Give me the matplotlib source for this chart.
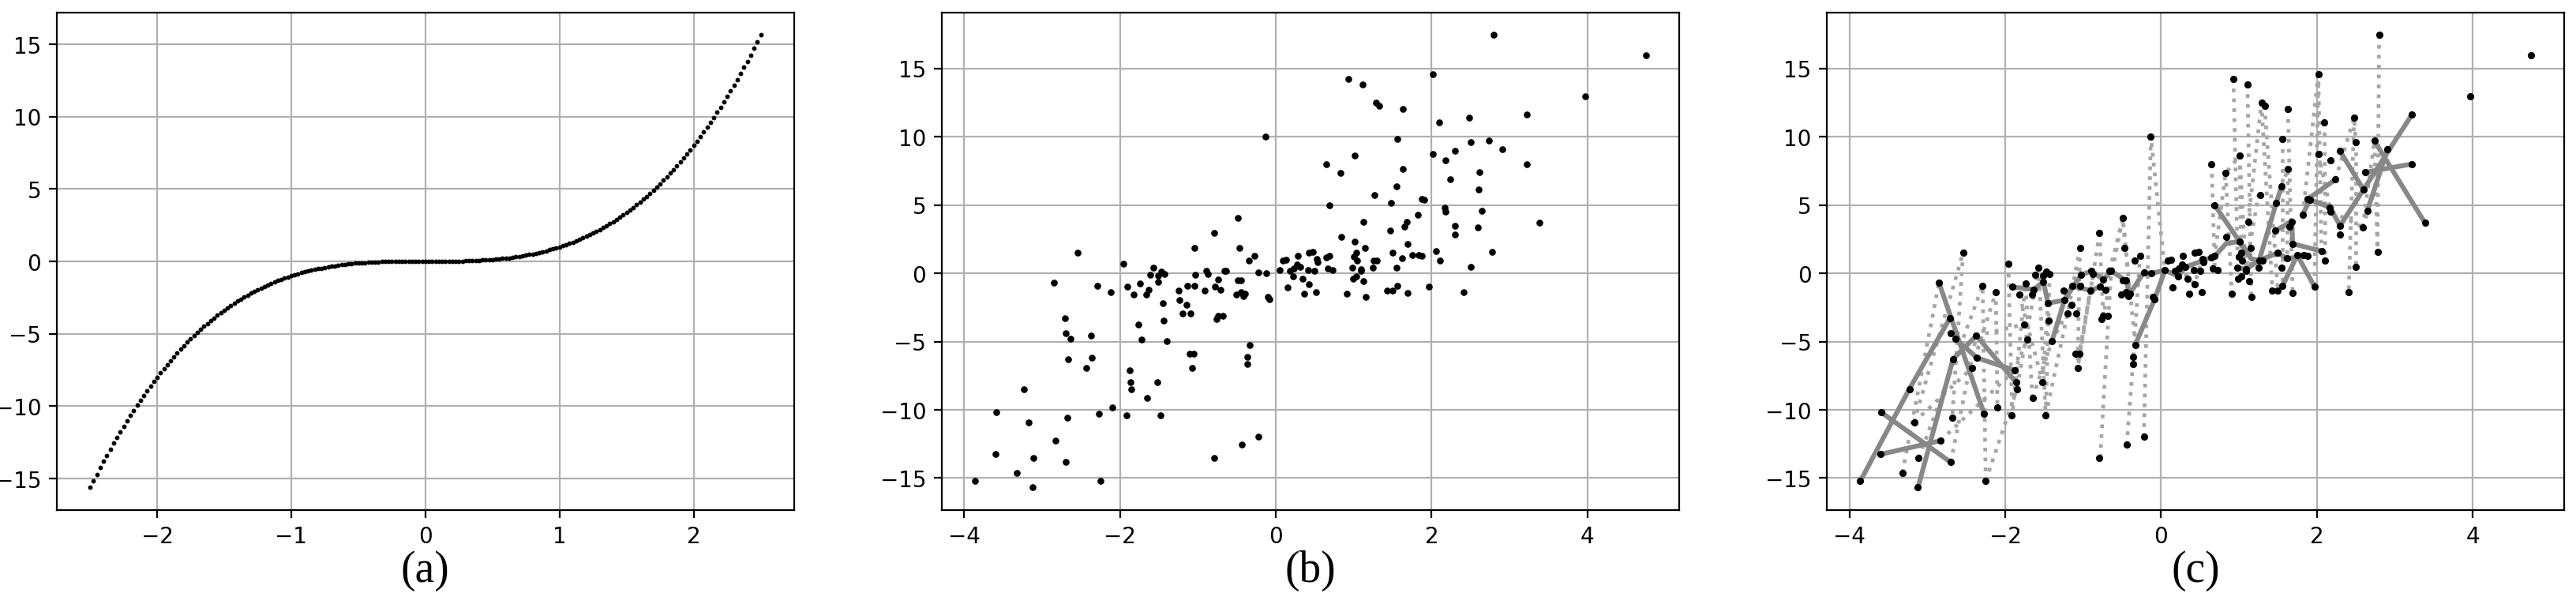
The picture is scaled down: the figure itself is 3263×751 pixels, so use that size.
import matplotlib
matplotlib.use("Agg")
import matplotlib.pyplot as plt

# ---- data ----
# (a) dense curve
x_a = [-2.500, -2.475, -2.450, -2.425, -2.400, -2.375, -2.350, -2.325, -2.300, -2.275,
       -2.250, -2.225, -2.200, -2.175, -2.150, -2.125, -2.100, -2.075, -2.050, -2.025,
       -2.000, -1.975, -1.950, -1.925, -1.900, -1.875, -1.850, -1.825, -1.800, -1.775,
       -1.750, -1.725, -1.700, -1.675, -1.650, -1.625, -1.600, -1.575, -1.550, -1.525,
       -1.500, -1.475, -1.450, -1.425, -1.400, -1.375, -1.350, -1.325, -1.300, -1.275,
       -1.250, -1.225, -1.200, -1.175, -1.150, -1.125, -1.100, -1.075, -1.050, -1.025,
       -1.000, -0.975, -0.950, -0.925, -0.900, -0.875, -0.850, -0.825, -0.800, -0.775,
       -0.750, -0.725, -0.700, -0.675, -0.650, -0.625, -0.600, -0.575, -0.550, -0.525,
       -0.500, -0.475, -0.450, -0.425, -0.400, -0.375, -0.350, -0.325, -0.300, -0.275,
       -0.250, -0.225, -0.200, -0.175, -0.150, -0.125, -0.100, -0.075, -0.050, -0.025,
       0.000,
       0.025, 0.050, 0.075, 0.100, 0.125, 0.150, 0.175, 0.200, 0.225, 0.250,
       0.275, 0.300, 0.325, 0.350, 0.375, 0.400, 0.425, 0.450, 0.475, 0.500,
       0.525, 0.550, 0.575, 0.600, 0.625, 0.650, 0.675, 0.700, 0.725, 0.750,
       0.775, 0.800, 0.825, 0.850, 0.875, 0.900, 0.925, 0.950, 0.975, 1.000,
       1.025, 1.050, 1.075, 1.100, 1.125, 1.150, 1.175, 1.200, 1.225, 1.250,
       1.275, 1.300, 1.325, 1.350, 1.375, 1.400, 1.425, 1.450, 1.475, 1.500,
       1.525, 1.550, 1.575, 1.600, 1.625, 1.650, 1.675, 1.700, 1.725, 1.750,
       1.775, 1.800, 1.825, 1.850, 1.875, 1.900, 1.925, 1.950, 1.975, 2.000,
       2.025, 2.050, 2.075, 2.100, 2.125, 2.150, 2.175, 2.200, 2.225, 2.250,
       2.275, 2.300, 2.325, 2.350, 2.375, 2.400, 2.425, 2.450, 2.475, 2.500]
y_a = [-15.63, -15.16, -14.71, -14.26, -13.82, -13.40, -12.98, -12.57, -12.17, -11.77,
       -11.39, -11.02, -10.65, -10.29, -9.94, -9.60, -9.26, -8.93, -8.62, -8.30,
       -8.00, -7.70, -7.41, -7.13, -6.86, -6.59, -6.33, -6.08, -5.83, -5.59,
       -5.36, -5.13, -4.91, -4.70, -4.49, -4.29, -4.10, -3.91, -3.72, -3.55,
       -3.38, -3.21, -3.05, -2.89, -2.74, -2.60, -2.46, -2.33, -2.20, -2.07,
       -1.95, -1.84, -1.73, -1.62, -1.52, -1.42, -1.33, -1.24, -1.16, -1.08,
       -1.00, -0.93, -0.86, -0.79, -0.73, -0.67, -0.61, -0.56, -0.51, -0.47,
       -0.42, -0.38, -0.34, -0.31, -0.27, -0.24, -0.22, -0.19, -0.17, -0.14,
       -0.13, -0.11, -0.09, -0.08, -0.06, -0.05, -0.04, -0.03, -0.03, -0.02,
       -0.02, -0.01, -0.01, -0.01, 0.00, 0.00, 0.00, 0.00, 0.00, 0.00,
       0.00,
       0.00, 0.00, 0.00, 0.00, 0.00, 0.00, 0.01, 0.01, 0.01, 0.02,
       0.02, 0.03, 0.03, 0.04, 0.05, 0.06, 0.08, 0.09, 0.11, 0.13,
       0.14, 0.17, 0.19, 0.22, 0.24, 0.27, 0.31, 0.34, 0.38, 0.42,
       0.47, 0.51, 0.56, 0.61, 0.67, 0.73, 0.79, 0.86, 0.93, 1.00,
       1.08, 1.16, 1.24, 1.33, 1.42, 1.52, 1.62, 1.73, 1.84, 1.95,
       2.07, 2.20, 2.33, 2.46, 2.60, 2.74, 2.89, 3.05, 3.21, 3.38,
       3.55, 3.72, 3.91, 4.10, 4.29, 4.49, 4.70, 4.91, 5.13, 5.36,
       5.59, 5.83, 6.08, 6.33, 6.59, 6.86, 7.13, 7.41, 7.70, 8.00,
       8.30, 8.62, 8.93, 9.26, 9.60, 9.94, 10.29, 10.65, 11.02, 11.39,
       11.77, 12.17, 12.57, 12.98, 13.40, 13.82, 14.26, 14.71, 15.16, 15.63]

# (b) / (c) noisy samples
x_b = [2.80, 4.75, 2.02, 0.93, 1.11, 3.97, 1.29, 1.33, 1.63, 3.22,
       2.48, 2.10, -0.13, 1.56, 2.50, 2.74, 2.91, 2.30, 2.02, 1.01,
       2.18, 0.65, 3.22, 0.83, 2.62, 1.63, 2.24, 1.55, 2.60, 1.27,
       1.88, 1.91, 1.48, 0.69, 2.17, 2.18, 2.65, 1.82, -0.49, 1.68,
       1.12, 3.39, 1.65, 2.30, 2.59, 1.47, -0.79, 2.30, 0.84, 1.01,
       1.69, 1.15, -1.04, -0.47, 2.06, -2.54, 2.78, 0.48, 0.43, 1.50,
       1.03, 1.75, 1.83, 1.88, 0.28, -0.27, 0.69, 0.65, 1.00, 1.62,
       0.53, 0.13, 0.09, -0.34, 0.54, 1.04, 1.26, 1.30, 2.11, -1.96,
       0.27, 0.31, 2.50, -1.57, 1.55, 0.98, 1.25, 0.67, 0.23, 0.73,
       0.05, 0.42, 0.50, 1.09, 1.09, -0.89, -1.47, -0.66, -0.64, 0.18,
       -0.22, -0.12, -0.87, -1.43, -1.61, -1.51, -1.03, 0.22, 1.03, 0.99,
       0.34, -0.74, -0.49, -0.45, 1.13, -1.51, 0.43, -1.74, -2.85, -2.29,
       -1.04, -1.14, -1.91, -0.78, 1.97, 1.56, -1.63, -0.71, -0.91, 0.15,
       -1.25, 1.43, 1.50, -2.12, -0.45, 0.52, 2.41, 1.69, -0.40, -0.51,
       -1.82, -1.66, 0.91, 0.36, -0.42, 1.16, -0.10, -0.08, -1.24, -1.45,
       -1.15, -1.20, -1.09, -0.74, -0.68, -0.76, -2.71, -1.44, -1.76, -2.70,
       -2.37, -2.64, -1.72, -1.40, -0.33, -1.10, -1.05, -0.36, -2.36, -2.67,
       -0.36, -2.43, -1.07, -1.88, -1.86, -1.52, -3.23, -1.85, -1.65, -2.10,
       -3.59, -2.27, -1.92, -1.48, -2.68, -3.17, -0.22, -2.83, -0.44, -3.60,
       -3.11, -0.79, -2.70, -3.32, -3.86, -2.25, -3.12]
y_b = [17.44, 15.94, 14.56, 14.25, 13.84, 12.95, 12.48, 12.26, 12.01, 11.60,
       11.40, 11.04, 9.99, 9.83, 9.58, 9.69, 9.11, 8.94, 8.72, 8.61,
       8.30, 8.00, 8.00, 7.33, 7.39, 7.61, 6.86, 6.39, 6.12, 5.73,
       5.42, 5.40, 5.15, 4.98, 4.82, 4.54, 4.59, 4.29, 4.04, 3.79,
       3.79, 3.68, 3.43, 3.49, 3.38, 3.13, 2.96, 2.82, 2.66, 2.32,
       2.16, 1.88, 1.85, 1.83, 1.63, 1.52, 1.55, 1.55, 1.49, 1.49,
       1.49, 1.33, 1.36, 1.27, 1.30, 1.27, 1.25, 1.16, 1.22, 1.08,
       1.02, 1.00, 0.94, 0.91, 0.83, 0.91, 0.94, 0.94, 0.94, 0.69,
       0.66, 0.44, 0.44, 0.42, 0.39, 0.42, 0.39, 0.36, 0.36, 0.25,
       0.22, 0.22, 0.19, 0.28, 0.17, 0.17, 0.11, 0.17, 0.17, 0.17,
       0.06, 0.00, -0.06, -0.08, -0.14, -0.17, -0.14, -0.22, -0.25, -0.42,
       -0.39, -0.47, -0.53, -0.53, -0.55, -0.61, -0.80, -0.77, -0.69, -0.91,
       -0.91, -0.94, -1.00, -1.00, -0.97, -0.94, -1.19, -1.19, -1.25, -1.05,
       -1.27, -1.25, -1.25, -1.38, -1.38, -1.38, -1.38, -1.44, -1.49, -1.55,
       -1.55, -1.55, -1.52, -1.52, -1.66, -1.74, -1.74, -1.88, -1.97, -2.19,
       -2.30, -2.96, -2.96, -3.10, -3.10, -3.35, -3.29, -3.46, -3.74, -4.37,
       -4.57, -4.79, -4.87, -4.98, -5.23, -5.92, -5.92, -6.14, -6.20, -6.28,
       -6.64, -6.95, -6.95, -7.11, -8.00, -7.97, -8.47, -8.47, -9.13, -9.80,
       -10.19, -10.30, -10.43, -10.41, -10.60, -10.91, -11.98, -12.26, -12.57, -13.26,
       -13.53, -13.51, -13.84, -14.61, -15.22, -15.20, -15.69]

# (c) solid links between samples
solid_x = [[-3.86, -3.23, -2.71], [-3.59, -2.70], [-3.60, -2.83], [-2.85, -2.27],
           [-3.12, -2.67, -2.37, -1.86], [-2.64, -2.36, -1.88],
           [-1.40, -1.24, -1.03, -0.89, -0.74, -0.64, -0.45, -0.40, -0.22, -0.12, 0.05, 0.22, 0.31],
           [-1.45, -1.24, -1.14, -0.91, -0.78], [-0.33, -0.08, 0.05],
           [0.31, 0.69, 0.84, 1.01, 1.16, 1.30], [0.69, 1.01], [1.26, 1.48, 1.55],
           [1.47, 1.68, 1.69, 2.06], [2.30, 2.60, 3.22], [2.30, 2.60], [2.62, 3.22],
           [2.74, 3.39], [2.65, 2.91], [1.88, 2.24], [1.91, 2.17, 2.30], [1.82, 1.91],
           [-1.91, -1.63, -1.51, -1.45], [0.98, 1.09, 1.26, 1.50, 1.62, 1.88],
           [1.56, 1.75, 1.97]]
solid_y = [[-15.22, -8.47, -3.29], [-10.19, -13.84], [-13.26, -12.26], [-0.69, -10.30],
           [-15.69, -6.28, -4.57, -8.00], [-4.79, -6.20, -7.11],
           [-4.98, -1.97, -0.14, 0.17, -0.47, 0.17, -0.53, -1.49, 0.06, 0.00, 0.22, -0.22, 0.44],
           [-2.19, -1.97, -0.94, -1.25, -1.00], [-5.23, -1.88, 0.22],
           [0.44, 1.25, 2.20, 2.32, 1.05, 0.94], [4.98, 2.32], [0.94, 5.15, 6.39],
           [3.13, 3.79, 2.16, 1.63], [3.49, 6.12, 11.60], [8.94, 6.12], [7.39, 8.00],
           [9.69, 3.68], [4.59, 9.11], [5.42, 6.86], [5.40, 4.82, 3.49], [4.29, 5.40],
           [-1.00, -1.19, -0.61, -2.19], [0.42, 0.28, 0.94, 1.49, 1.08, 1.27],
           [-0.94, 1.33, -0.97]]

# (c) dotted links between samples
dot_x = [[-3.32, -2.85], [-3.11, -2.29, -2.25], [-2.54, -2.68], [-3.17, -2.43, -2.12, -2.10],
         [-1.96, -1.91, -1.74, -1.65], [-1.57, -1.48, -1.43], [-1.82, -1.52, -1.45],
         [-1.04, -1.07, -0.91], [-1.10, -1.05, -0.87], [-0.79, -0.74, -0.49, -0.40],
         [-0.78, -0.64], [-0.44, -0.36, -0.27], [-0.22, -0.13, 0.05], [0.65, 0.69],
         [0.83, 0.91], [0.93, 0.99], [1.11, 1.16], [1.29, 1.43], [1.33, 1.50], [1.63, 1.69],
         [1.56, 1.56], [2.02, 1.97], [2.10, 2.11], [2.80, 2.78], [2.48, 2.41], [2.50, 2.50],
         [2.02, 2.18, 2.59], [1.01, 1.09, 1.25], [2.91, 2.59], [-2.70, -2.37, -1.76],
         [-2.83, -1.88, -1.72], [0.13, 0.43, 0.53],
         [-3.17, -2.54], [-2.25, -1.85, -1.57], [-1.65, -1.40, -1.15], [-1.48, -1.20, -1.04],
         [0.67, 0.83, 1.01, 1.03], [1.12, 1.29, 1.33], [1.55, 1.63, 1.62], [1.82, 2.02, 2.06],
         [2.24, 2.48, 2.50], [2.59, 2.74, 2.78], [-0.66, -0.49, -0.33], [-0.79, -0.87, -1.07]]
dot_y = [[-14.61, -0.69], [-13.53, -0.91, -15.20], [1.52, -10.60], [-10.91, -6.95, -1.38, -9.80],
         [0.69, -10.43, -0.77, -9.13], [0.42, -10.41, -0.08], [-1.55, -7.97, -2.19],
         [1.85, -6.95, -1.25], [-5.92, -5.92, -0.06], [2.96, -3.10, 4.04, -1.49],
         [-13.51, 0.17], [-12.57, -6.64, 1.27], [-11.98, 9.99, 0.22], [8.00, 0.36],
         [7.33, -1.52], [14.25, -0.42], [13.84, -1.74], [12.48, -1.25], [12.26, -1.25], [12.01, -1.44],
         [9.83, -0.94], [14.56, -0.97], [11.04, 0.94], [17.44, 1.55], [11.40, -1.38], [9.58, 0.44],
         [8.72, 4.54, 3.38], [8.61, 0.28, 5.73], [9.11, 3.38], [-13.84, -4.57, -3.74],
         [-12.26, -7.11, -4.87], [1.00, -0.80, 1.02],
         [-10.91, 1.52], [-15.20, -8.47, 0.42], [-9.13, -4.98, -2.30], [-10.41, -2.96, 1.85],
         [0.36, 7.33, 8.61, 1.49], [3.79, 12.48, 12.26], [6.39, 7.61, 1.08], [4.29, 14.56, 1.63],
         [6.86, 11.40, 9.58], [3.38, 9.69, 1.55], [0.17, 4.04, -5.23], [2.96, -0.06, -6.95]]

captions = ["(a)", "(b)", "(c)"]

# ---- figure ----
fig = plt.figure(figsize=(16.315, 3.759), dpi=200)
lefts = [0.02194, 0.36552, 0.70916]
axes = [fig.add_axes([l, 0.1396, 0.28637, 0.8383]) for l in lefts]

ax = axes[0]
ax.plot(x_a, y_a, "o", color="black", ms=2.1, mew=0, zorder=3)

ax = axes[1]
ax.plot(x_b, y_b, "o", color="black", ms=3.1, mew=0, zorder=3)

ax = axes[2]
for xs, ys in zip(dot_x, dot_y):
    ax.plot(xs, ys, linestyle=":", color="#a6a6a6", lw=1.7, zorder=2)
for xs, ys in zip(solid_x, solid_y):
    ax.plot(xs, ys, "-", color="#888888", lw=2.2, zorder=2.5)
ax.plot(x_b, y_b, "o", color="black", ms=3.3, mew=0, zorder=3)

for ax, cap in zip(axes, captions):
    ax.grid(True)
    ax.set_axisbelow(True)
    pos = ax.get_position()
    fig.text(pos.x0 + pos.width / 2, 0.0386, cap, ha="center", va="center",
             fontsize=20, family="Liberation Serif")

fig.savefig("out.png", dpi=200)
